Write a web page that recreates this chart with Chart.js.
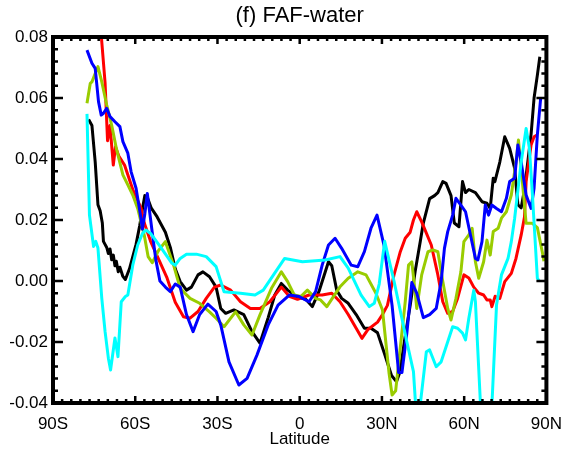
<!DOCTYPE html>
<html>
<head>
<meta charset="utf-8">
<title>(f) FAF-water</title>
<script src="https://cdn.jsdelivr.net/npm/chart.js@4.4.1/dist/chart.umd.min.js"></script>
<style>
    html, body { margin: 0; padding: 0; background: #fff; }
    #wrap { width: 573px; height: 450px; position: relative; }
</style>
</head>
<body>
<div id="wrap"><canvas id="myChart"></canvas></div>
<script>
// Tick labels
const latTicks = [-90, -60, -30, 0, 30, 60, 90];
const latTickLabels = ['90S', '60S', '30S', '0', '30N', '60N', '90N'];
const yTickLabels = ['-0.04', '-0.02', '0.00', '0.02', '0.04', '0.06', '0.08'];
const chartTitle = '(f) FAF-water';

// Series values (latitude, value)
const blackLat = [-77.0, -75.8, -74.6, -73.6, -72.8, -72.0, -71.6, -70.4, -69.8, -69.2, -68.6, -68.0, -67.4, -66.9, -66.2, -65.6, -64.5, -63.6, -62.1, -59.7, -58.4, -57.3, -56.5, -55.4, -54.2, -52.0, -49.0, -47.2, -45.4, -43.6, -41.3, -39.5, -37.1, -35.3, -32.9, -30.5, -28.8, -27.0, -24.0, -20.4, -17.4, -14.5, -11.5, -9.1, -6.7, -4.4, -1.3, 2.2, 4.6, 7.0, 10.5, 11.7, 13.5, 15.3, 17.7, 20.6, 23.6, 26.0, 28.4, 31.0, 33.5, 35.3, 36.5, 38.5, 40.3, 42.1, 44.0, 45.1, 47.4, 49.2, 50.4, 52.2, 53.4, 55.2, 56.4, 58.1, 59.4, 60.5, 61.7, 64.1, 66.5, 68.3, 69.5, 70.6, 71.2, 73.0, 74.8, 76.6, 78.4, 79.6, 80.8, 82.0, 84.4, 85.5, 86.7, 87.6];
const blackVal = [0.053, 0.051, 0.039, 0.025, 0.023, 0.019, 0.013, 0.011, 0.009, 0.0105, 0.007, 0.0085, 0.005, 0.0065, 0.003, 0.0045, 0.0015, 0.0005, 0.004, 0.012, 0.018, 0.024, 0.028, 0.027, 0.024, 0.021, 0.016, 0.011, 0.004, -0.0002, -0.003, -0.002, 0.002, 0.003, 0.0014, -0.002, -0.009, -0.0106, -0.0095, -0.011, -0.0166, -0.0204, -0.012, -0.0046, -0.0008, -0.003, -0.005, -0.006, -0.0084, -0.0035, 0.0063, 0.005, -0.003, -0.0057, -0.0073, -0.011, -0.0155, -0.0155, -0.017, -0.024, -0.031, -0.033, -0.030, -0.018, -0.008, 0.003, 0.013, 0.019, 0.027, 0.028, 0.029, 0.0326, 0.032, 0.028, 0.019, 0.0178, 0.0326, 0.029, 0.030, 0.029, 0.026, 0.0255, 0.0238, 0.0337, 0.0326, 0.039, 0.0473, 0.0435, 0.037, 0.025, 0.024, 0.030, 0.048, 0.060, 0.0675, 0.0735];

const redLat = [-72.8, -71.0, -70.1, -69.2, -68.0, -67.2, -66.0, -63.9, -60.9, -57.9, -56.7, -54.4, -51.4, -48.4, -45.4, -42.4, -40.0, -37.1, -34.1, -31.1, -28.8, -25.2, -21.6, -18.0, -14.5, -10.9, -6.7, -3.8, -0.8, 3.4, 8.2, 11.7, 14.7, 17.7, 20.6, 22.7, 24.8, 28.4, 30.2, 32.0, 34.4, 36.7, 38.5, 40.3, 41.5, 42.7, 44.5, 48.0, 50.4, 52.2, 54.0, 55.8, 57.6, 59.9, 61.7, 63.5, 65.3, 67.1, 68.3, 69.5, 70.1, 71.3, 73.0, 74.8, 77.2, 78.9, 80.8, 82.0, 82.6, 84.4, 85.5, 86.7];
const redVal = [0.085, 0.065, 0.046, 0.051, 0.038, 0.044, 0.041, 0.038, 0.030, 0.024, 0.019, 0.013, 0.007, 0.001, -0.007, -0.0117, -0.0122, -0.010, -0.0057, -0.002, -0.0013, -0.003, -0.0068, -0.009, -0.009, -0.0068, -0.002, -0.005, -0.006, -0.0046, -0.0046, -0.004, -0.0068, -0.011, -0.0155, -0.0188, -0.016, -0.0135, -0.011, -0.008, 0.002, 0.0096, 0.014, 0.016, 0.020, 0.0227, 0.0194, 0.0118, 0.002, -0.0068, -0.0106, -0.010, -0.0057, 0.002, 0.001, -0.002, -0.004, -0.0046, -0.0062, -0.0062, -0.0084, -0.005, -0.0057, -0.0002, 0.0025, 0.0074, 0.0151, 0.021, 0.0326, 0.0446, 0.0473, 0.0479];

const blueLat = [-77.6, -75.8, -74.6, -73.4, -72.4, -71.6, -70.4, -69.2, -67.4, -65.6, -64.5, -62.7, -61.5, -59.7, -58.1, -57.4, -56.5, -55.6, -53.8, -52.5, -51.0, -49.0, -47.2, -45.4, -43.6, -41.3, -38.9, -36.5, -33.5, -30.5, -28.8, -25.8, -22.2, -19.2, -15.6, -11.5, -7.9, -3.8, -0.2, 3.4, 5.8, 8.2, 10.5, 12.9, 15.3, 18.8, 21.2, 23.6, 26.0, 28.2, 30.8, 33.7, 36.1, 37.3, 39.1, 40.9, 42.7, 45.1, 47.4, 49.8, 51.6, 52.8, 54.0, 55.8, 57.0, 58.8, 60.5, 62.3, 64.1, 65.0, 66.5, 67.7, 68.9, 70.1, 71.8, 73.6, 75.4, 76.6, 78.4, 79.6, 80.8, 82.6, 84.4, 85.5, 86.7, 87.9];
const blueVal = [0.0757, 0.0714, 0.0697, 0.0588, 0.0544, 0.055, 0.0566, 0.0539, 0.0522, 0.0506, 0.0457, 0.0419, 0.0358, 0.0304, 0.0216, 0.017, 0.022, 0.0287, 0.016, 0.007, 0.000, -0.002, -0.0035, -0.001, -0.002, -0.011, -0.0166, -0.011, -0.0076, -0.010, -0.0144, -0.0265, -0.0341, -0.0319, -0.0243, -0.0144, -0.0079, -0.0046, -0.0051, -0.0068, -0.0035, 0.0052, 0.0118, 0.014, 0.0107, 0.0052, 0.0047, 0.0096, 0.0173, 0.0216, 0.0115, -0.008, -0.030, -0.030, -0.017, -0.0005, -0.004, -0.012, -0.011, -0.009, -0.0002, 0.0107, 0.0162, 0.0216, 0.0271, 0.0249, 0.0227, 0.0151, 0.0074, 0.0069, 0.0129, 0.0249, 0.0216, 0.0249, 0.0238, 0.0227, 0.0271, 0.0326, 0.0337, 0.0446, 0.039, 0.0282, 0.0238, 0.0304, 0.0479, 0.0599];

const greenLat = [-77.6, -76.4, -75.8, -73.6, -72.2, -70.4, -68.6, -66.9, -64.5, -62.7, -60.9, -59.1, -57.9, -56.7, -55.3, -53.8, -51.5, -49.0, -46.0, -43.6, -40.0, -36.5, -32.9, -30.5, -27.6, -23.4, -20.4, -17.4, -14.5, -10.3, -6.7, -4.4, -2.0, 0.4, 2.8, 5.8, 7.6, 9.9, 12.3, 14.7, 17.7, 21.2, 24.2, 27.8, 30.2, 32.6, 33.7, 35.0, 36.4, 38.5, 39.7, 40.9, 42.1, 42.7, 44.5, 46.8, 48.6, 50.4, 52.2, 54.0, 55.2, 57.0, 58.8, 59.9, 61.7, 62.9, 64.1, 65.3, 67.1, 68.3, 69.5, 70.6, 72.4, 73.6, 75.4, 77.2, 78.9, 79.8, 81.0, 82.6, 84.9, 86.7, 88.5, 89.1];
const greenVal = [0.0583, 0.0648, 0.0653, 0.0703, 0.0653, 0.0577, 0.0511, 0.0435, 0.0348, 0.0315, 0.0282, 0.0238, 0.0194, 0.015, 0.008, 0.006, 0.010, 0.0129, 0.0052, -0.0024, -0.0057, -0.0073, -0.0101, -0.0122, -0.015, -0.0101, -0.0144, -0.0177, -0.0111, -0.0024, 0.003, -0.0002, -0.0046, -0.0051, -0.003, -0.0057, -0.0062, -0.0084, -0.0051, -0.0019, 0.0009, 0.003, 0.002, -0.004, -0.0095, -0.0303, -0.0374, -0.036, -0.0243, -0.0068, 0.0052, 0.0063, -0.0035, -0.009, 0.002, 0.0096, 0.0102, 0.0096, -0.0002, -0.009, -0.0128, -0.0057, 0.003, 0.0129, 0.0151, 0.0173, 0.0063, 0.0009, 0.0063, 0.0134, 0.0085, 0.0162, 0.0173, 0.0206, 0.0227, 0.0282, 0.039, 0.0462, 0.035, 0.0189, 0.0189, 0.0175, 0.0095, 0.0065];

const cyanLat = [-77.6, -76.7, -75.2, -74.4, -73.6, -72.2, -71.0, -69.8, -69.0, -67.4, -66.3, -65.1, -63.6, -62.7, -60.9, -59.1, -57.3, -56.1, -54.4, -50.8, -46.6, -45.4, -43.6, -41.3, -37.7, -34.1, -30.5, -27.6, -21.6, -16.3, -13.3, -5.5, 1.0, 9.3, 14.7, 17.7, 22.4, 25.4, 27.2, 29.0, 31.0, 34.4, 39.1, 41.5, 42.6, 43.4, 46.2, 47.4, 49.8, 51.6, 55.8, 57.6, 59.4, 60.5, 61.7, 63.5, 64.1, 66.2, 69.9, 71.8, 73.6, 76.0, 77.2, 78.4, 80.8, 82.6, 83.8, 84.9, 86.7, 87.4];
const cyanVal = [0.0548, 0.0216, 0.0113, 0.013, 0.0108, -0.0057, -0.0166, -0.0253, -0.0292, -0.0187, -0.0248, -0.0068, -0.0051, -0.0046, 0.0052, 0.0118, 0.0157, 0.0167, 0.0156, 0.0112, 0.0058, 0.0052, 0.0074, 0.0088, 0.0088, 0.008, 0.0047, -0.0035, -0.004, -0.0046, -0.003, 0.0074, 0.0063, 0.0069, 0.008, 0.0042, -0.0046, -0.0084, -0.0073, -0.001, 0.013, 0.000, -0.020, -0.0297, -0.045, -0.045, -0.0232, -0.0226, -0.0281, -0.0265, -0.015, -0.0155, -0.0171, -0.0193, -0.0122, -0.003, -0.0068, -0.045, -0.045, -0.0079, 0.002, 0.0074, 0.0129, 0.0205, 0.039, 0.050, 0.0435, 0.0282, 0.0009, 0.000];

function toPoints(lats, vals) {
    return lats.map((lat, i) => ({ x: lat, y: vals[i] }));
}

// Box with inward ticks on all four sides, IDL style, plus title centred over the box
const frameBox = {
    id: 'frameBox',
    afterDatasetsDraw(chart) {
        const { ctx, chartArea: a, scales: { x, y } } = chart;
        ctx.save();
        ctx.strokeStyle = '#000';
        ctx.lineWidth = 2.5;
        ctx.beginPath();
        for (let i = 0; i <= 54; i++) {
            const px = x.getPixelForValue(-90 + i * 30 / 9);
            const len = i % 9 === 0 ? 7 : 4;
            ctx.moveTo(px, a.bottom); ctx.lineTo(px, a.bottom - len);
            ctx.moveTo(px, a.top); ctx.lineTo(px, a.top + len);
        }
        for (let i = 0; i <= 30; i++) {
            const py = y.getPixelForValue(-0.04 + i * 0.004);
            const len = i % 5 === 0 ? 10 : 5;
            ctx.moveTo(a.left, py); ctx.lineTo(a.left + len, py);
            ctx.moveTo(a.right, py); ctx.lineTo(a.right - len, py);
        }
        ctx.stroke();
        ctx.lineWidth = 4;
        ctx.strokeRect(a.left, a.top, a.right - a.left, a.bottom - a.top);

        ctx.fillStyle = '#000';
        ctx.font = '22px "Liberation Sans", Arial, sans-serif';
        ctx.textAlign = 'center';
        ctx.textBaseline = 'middle';
        ctx.fillText(chartTitle, (a.left + a.right) / 2, 16);
        ctx.restore();
    }
};

document.addEventListener('DOMContentLoaded', function () {
    const ctx = document.getElementById('myChart').getContext('2d');
    Chart.defaults.font.family = '"Liberation Sans", Arial, sans-serif';
    Chart.defaults.color = '#000';

    const lineStyle = { borderWidth: 3, pointRadius: 0, tension: 0, fill: false, borderJoinStyle: 'round' };

    new Chart(ctx, {
        type: 'line',
        data: {
            datasets: [
                { label: 'cyan', data: toPoints(cyanLat, cyanVal), borderColor: '#00ffff', ...lineStyle },
                { label: 'blue', data: toPoints(blueLat, blueVal), borderColor: '#0000ff', ...lineStyle },
                { label: 'green', data: toPoints(greenLat, greenVal), borderColor: '#99cc00', ...lineStyle },
                { label: 'red', data: toPoints(redLat, redVal), borderColor: '#ff0000', ...lineStyle },
                { label: 'black', data: toPoints(blackLat, blackVal), borderColor: '#000000', ...lineStyle }
            ]
        },
        options: {
            responsive: true,
            maintainAspectRatio: false,
            animation: false,
            layout: { padding: { left: 0, right: 16, top: 37, bottom: 0 } },
            scales: {
                x: {
                    type: 'linear',
                    min: -90,
                    max: 90,
                    grid: { display: false, drawTicks: false },
                    border: { display: false },
                    ticks: {
                        stepSize: 30,
                        autoSkip: false,
                        maxRotation: 0,
                        padding: 11,
                        font: { size: 17 },
                        callback: v => latTickLabels[latTicks.indexOf(Math.round(v))]
                    },
                    title: { display: true, text: 'Latitude', font: { size: 17 }, padding: 0 },
                    afterFit: s => { s.height = 47; }
                },
                y: {
                    min: -0.04,
                    max: 0.08,
                    grid: { display: false, drawTicks: false },
                    border: { display: false },
                    ticks: {
                        stepSize: 0.02,
                        autoSkip: false,
                        padding: 5,
                        font: { size: 17 },
                        callback: v => yTickLabels[Math.round((v + 0.04) / 0.02)]
                    },
                    afterFit: s => { s.width = 53; }
                }
            },
            plugins: {
                legend: { display: false },
                tooltip: { enabled: false },
                title: { display: false }
            }
        },
        plugins: [frameBox]
    });
});
</script>
</body>
</html>
